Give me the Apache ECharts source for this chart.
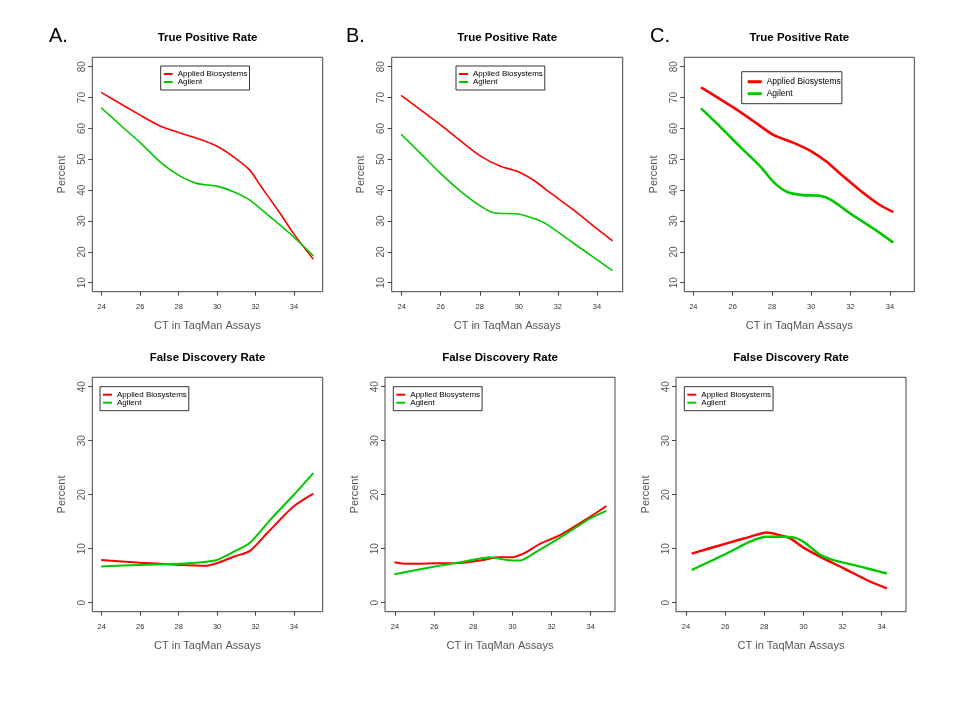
<!DOCTYPE html>
<html>
<head>
<meta charset="utf-8">
<script src="https://cdn.jsdelivr.net/npm/echarts@6/dist/echarts.min.js"></script>
<style>html,body{margin:0;padding:0;background:#fff}#c{width:960px;height:720px}</style>
</head>
<body>
<div id="c"></div>
<script>
// ---------- data ----------
const seriesNames = ['Applied Biosystems', 'Agilent'];
const xTickLabels = [24, 26, 28, 30, 32, 34];
const tprTicks = [10, 20, 30, 40, 50, 60, 70, 80];
const fdrTicks = [0, 10, 20, 30, 40];

// Panel A, True Positive Rate
const aTprAbX = [23.97, 26.0, 27.03, 28.04, 29.1, 29.98, 30.85, 31.7, 32.23, 33.27, 33.97, 35.0];
const aTprAbY = [71.7, 64.3, 60.8, 58.6, 56.5, 54.3, 50.8, 46.5, 41.7, 32.5, 26.0, 17.6];
const aTprAgX = [23.97, 24.95, 26.0, 27.03, 28.04, 28.94, 29.98, 30.85, 31.7, 32.75, 33.97, 35.0];
const aTprAgY = [66.7, 61.2, 55.4, 49.2, 44.7, 42.2, 41.3, 39.5, 36.8, 31.4, 24.9, 18.7];
// Panel B, True Positive Rate
const bTprAbX = [23.97, 25.96, 26.99, 28.0, 29.03, 29.97, 30.74, 31.6, 32.8, 33.98, 34.8];
const bTprAbY = [70.7, 61.3, 56.1, 51.2, 47.8, 46.0, 43.3, 39.2, 33.6, 27.6, 23.6];
const bTprAgX = [23.97, 24.94, 25.96, 26.99, 28.0, 28.7, 29.97, 30.74, 31.42, 32.8, 33.98, 34.8];
const bTprAgY = [58.1, 52.1, 45.6, 39.8, 35.0, 32.7, 32.3, 30.9, 29.0, 22.8, 17.6, 13.9];
// Panel C, True Positive Rate
const cTprAbX = [24.39, 26.03, 27.05, 28.07, 29.08, 30.02, 30.78, 31.46, 32.47, 33.49, 34.17];
const cTprAbY = [73.3, 66.8, 62.4, 57.9, 55.4, 52.5, 49.2, 45.4, 40.0, 35.2, 32.9];
const cTprAgX = [24.39, 25.36, 26.37, 27.39, 28.07, 28.75, 29.59, 30.44, 31.03, 31.97, 33.15, 34.17];
const cTprAgY = [66.5, 60.6, 54.1, 47.8, 42.7, 39.5, 38.4, 38.2, 36.8, 32.5, 27.6, 23.0];
// Panel A, False Discovery Rate
const aFdrAbX = [23.97, 26.0, 28.07, 29.46, 29.98, 30.85, 31.71, 32.58, 33.97, 35.0];
const aFdrAbY = [7.9, 7.4, 7.0, 6.85, 7.3, 8.5, 9.6, 12.8, 17.8, 20.2];
const aFdrAgX = [23.97, 26.0, 28.07, 29.46, 29.98, 30.85, 31.71, 32.75, 33.97, 35.0];
const aFdrAgY = [6.7, 7.0, 7.2, 7.6, 7.9, 9.4, 11.1, 15.3, 19.9, 24.0];
// Panel B, False Discovery Rate
const bFdrAbX = [23.97, 24.6, 26.04, 27.5, 28.5, 29.2, 29.88, 30.56, 31.4, 32.43, 33.97, 34.8];
const bFdrAbY = [7.5, 7.2, 7.3, 7.4, 7.9, 8.4, 8.4, 9.1, 10.9, 12.5, 15.9, 17.9];
const bFdrAgX = [23.97, 26.04, 27.5, 28.85, 29.71, 30.39, 31.07, 32.09, 33.1, 33.97, 34.8];
const bFdrAgY = [5.25, 6.7, 7.6, 8.4, 7.9, 7.8, 9.1, 11.3, 13.6, 15.6, 17.0];
// Panel C, False Discovery Rate
const cFdrAbX = [24.29, 26.08, 27.27, 28.12, 28.8, 29.32, 30.0, 31.02, 32.04, 33.23, 34.26];
const cFdrAbY = [9.1, 11.0, 12.2, 13.0, 12.5, 11.9, 10.2, 8.2, 6.4, 4.2, 2.65];
const cFdrAgX = [24.29, 26.08, 27.27, 28.12, 28.97, 29.49, 30.0, 30.85, 31.53, 32.55, 33.57, 34.26];
const cFdrAgY = [6.05, 9.1, 11.3, 12.2, 12.2, 12.1, 11.3, 8.9, 7.9, 7.0, 6.05, 5.4];

// ---------- layout ----------
const FONT = 'Liberation Sans, Arial, Helvetica, sans-serif';
const RED = '#ff0000', GREEN = '#00c800';
const zip = (xs, ys) => xs.map((x, i) => [x, ys[i]]);

const panels = [
  {title:'True Positive Rate', left:92.3, top:57.3, w:230.4, xmin:23.51, xmax:35.49, ymin:7.1, ymax:83.05, yt:tprTicks,
   ab:zip(aTprAbX,aTprAbY), ag:zip(aTprAgX,aTprAgY), lw:1.6, leg:{l:160.7,t:66,big:false}},
  {title:'True Positive Rate', left:391.7, top:57.3, w:231, xmin:23.49, xmax:35.32, ymin:7.1, ymax:83.05, yt:tprTicks,
   ab:zip(bTprAbX,bTprAbY), ag:zip(bTprAgX,bTprAgY), lw:1.6, leg:{l:456,t:66,big:false}},
  {title:'True Positive Rate', left:684.3, top:57.3, w:230, xmin:23.54, xmax:35.24, ymin:7.1, ymax:83.05, yt:tprTicks,
   ab:zip(cTprAbX,cTprAbY), ag:zip(cTprAgX,cTprAgY), lw:2.6, leg:{l:741.7,t:71.7,big:true}},
  {title:'False Discovery Rate', left:92.3, top:377.3, w:230.4, xmin:23.51, xmax:35.49, ymin:-1.67, ymax:41.74, yt:fdrTicks,
   ab:zip(aFdrAbX,aFdrAbY), ag:zip(aFdrAgX,aFdrAgY), lw:2.0, leg:{l:100,t:386.7,big:false}},
  {title:'False Discovery Rate', left:385, top:377.3, w:230, xmin:23.49, xmax:35.24, ymin:-1.67, ymax:41.74, yt:fdrTicks,
   ab:zip(bFdrAbX,bFdrAbY), ag:zip(bFdrAgX,bFdrAgY), lw:2.0, leg:{l:393.3,t:386.7,big:false}},
  {title:'False Discovery Rate', left:676, top:377.3, w:230, xmin:23.49, xmax:35.24, ymin:-1.67, ymax:41.74, yt:fdrTicks,
   ab:zip(cFdrAbX,cFdrAbY), ag:zip(cFdrAgX,cFdrAgY), lw:2.4, leg:{l:684.3,t:386.7,big:false}}
];
const H = 234.4;

const grid = [], xAxis = [], yAxis = [], series = [], title = [], legend = [];
panels.forEach((p, i) => {
  grid.push({left:p.left, top:p.top, width:p.w, height:H, show:true, borderColor:'#444', borderWidth:1, containLabel:false});
  xAxis.push({
    type:'value', gridIndex:i, min:p.xmin, max:p.xmax, position:'bottom',
    axisLine:{show:false, onZero:false}, splitLine:{show:false},
    axisTick:{show:true, inside:false, length:4, lineStyle:{color:'#444'}, customValues:xTickLabels},
    axisLabel:{customValues:xTickLabels, fontSize:7.5, color:'#333', margin:11, fontFamily:FONT},
    name:'CT in TaqMan Assays', nameLocation:'middle', nameGap:29,
    nameTextStyle:{fontSize:11, color:'#555', fontFamily:FONT}
  });
  yAxis.push({
    type:'value', gridIndex:i, min:p.ymin, max:p.ymax, position:'left',
    axisLine:{show:false, onZero:false}, splitLine:{show:false},
    axisTick:{show:true, inside:false, length:4, lineStyle:{color:'#444'}, customValues:p.yt},
    axisLabel:{customValues:p.yt, rotate:90, fontSize:10, color:'#555', margin:5, fontFamily:FONT},
    name:'Percent', nameLocation:'middle', nameGap:25,
    nameTextStyle:{fontSize:11, color:'#555', fontFamily:FONT}
  });
  series.push({name:seriesNames[0], type:'line', xAxisIndex:i, yAxisIndex:i, data:p.ab, showSymbol:false, symbol:'none',
    smooth:0.25, lineStyle:{color:RED, width:p.lw}, itemStyle:{color:RED}, silent:true, animation:false});
  series.push({name:seriesNames[1], type:'line', xAxisIndex:i, yAxisIndex:i, data:p.ag, showSymbol:false, symbol:'none',
    smooth:0.25, lineStyle:{color:GREEN, width:p.lw}, itemStyle:{color:GREEN}, silent:true, animation:false});
  title.push({text:p.title, left:p.left + p.w/2, top:p.top - 25.5, textAlign:'center', padding:0,
    textStyle:{fontSize:11.5, fontWeight:'bold', color:'#000', fontFamily:FONT}});
  const big = p.leg.big;
  legend.push({
    data:seriesNames, left:p.leg.l, top:p.leg.t, orient:'vertical', selectedMode:false,
    borderColor:'#333', borderWidth:1, backgroundColor:'#fff',
    padding: big ? [4,1,4,6] : [4,2,4,3],
    itemGap:0, itemWidth: big ? 14 : 9, itemHeight: big ? 3 : 2, icon:'rect',
    textStyle:{fontSize: big ? 8.5 : 8, lineHeight: big ? 12 : 8, color:'#000', fontFamily:FONT, padding:0}
  });
});
[['A.', 49], ['B.', 346], ['C.', 650]].forEach(([t, x]) => {
  title.push({text:t, left:x, top:26, padding:0, textStyle:{fontSize:20, fontWeight:'normal', color:'#000', fontFamily:FONT}});
});

const chart = echarts.init(document.getElementById('c'), null, {renderer:'canvas'});
chart.setOption({animation:false, backgroundColor:'#fff', grid, xAxis, yAxis, series, title, legend, tooltip:{show:false}});
</script>
</body>
</html>
